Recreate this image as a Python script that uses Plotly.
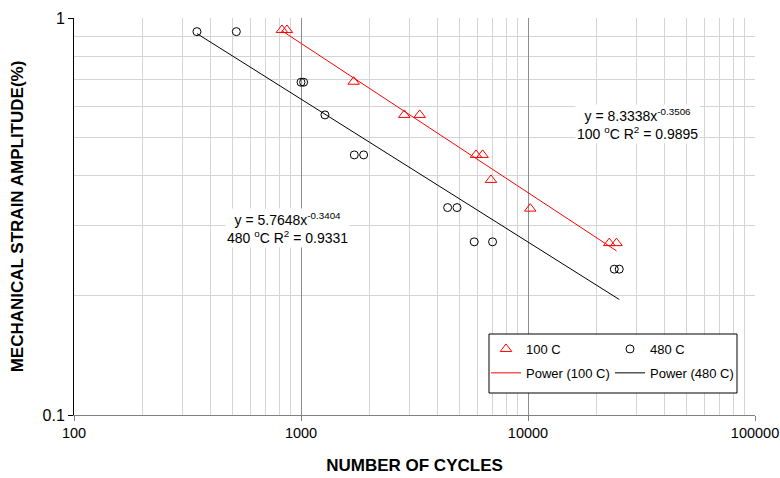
import numpy as np
import plotly.graph_objects as go

# 100 C data
cycles_100 = [824, 867, 1706, 2851, 3334, 5902, 6310, 6870, 10230, 22800, 24550]
strain_100 = [0.933, 0.933, 0.691, 0.570, 0.570, 0.452, 0.452, 0.391, 0.331, 0.271, 0.271]
# 480 C data
cycles_480 = [348, 519, 1000, 1027, 1275, 1717, 1888, 4426, 4866, 5795, 6980, 23990, 25240]
strain_480 = [0.924, 0.924, 0.689, 0.689, 0.570, 0.452, 0.452, 0.333, 0.333, 0.273, 0.273, 0.233, 0.233]

x_tickvals = [100, 1000, 10000, 100000]
x_ticktext = ["100", "1000", "10000", "100000"]
y_tickvals = [0.1, 1]
y_ticktext = ["0.1", "1"]

eq_100 = "y = 8.3338x<sup>-0.3506</sup><br>100 <sup>o</sup>C R<sup>2</sup> = 0.9895"
eq_480 = "y = 5.7648x<sup>-0.3404</sup><br>480 <sup>o</sup>C R<sup>2</sup> = 0.9331"

FONT = "Liberation Sans, Arial, sans-serif"


def power_fit(x, y):
    lx, ly = np.log10(x), np.log10(y)
    b, a = np.polyfit(lx, ly, 1)
    xs = np.array([min(x), max(x)], dtype=float)
    return xs, 10 ** (a + b * np.log10(xs))


fx100, fy100 = power_fit(cycles_100, strain_100)
fx480, fy480 = power_fit(cycles_480, strain_480)

fig = go.Figure()
fig.add_trace(go.Scatter(x=cycles_100, y=strain_100, mode="markers", name="100 C",
                         marker=dict(symbol="triangle-up-open", size=10, color="#ff0000", line=dict(width=1)),
                         legend="legend", legendgroup="a"))
fig.add_trace(go.Scatter(x=cycles_480, y=strain_480, mode="markers", name="480 C",
                         marker=dict(symbol="circle-open", size=8, color="#000000", line=dict(width=1)),
                         legend="legend2", legendgroup="c"))
fig.add_trace(go.Scatter(x=fx100, y=fy100, mode="lines", name="Power (100 C)",
                         line=dict(color="#ff0000", width=1), legend="legend", legendgroup="b"))
fig.add_trace(go.Scatter(x=fx480, y=fy480, mode="lines", name="Power (480 C)",
                         line=dict(color="#000000", width=1), legend="legend2", legendgroup="d"))

legend_common = dict(bgcolor="rgba(0,0,0,0)", borderwidth=0, font=dict(family=FONT, size=13, color="#000"),
                     traceorder="grouped", tracegroupgap=4, yanchor="top", xanchor="left", itemwidth=30)

fig.update_layout(
    width=780, height=478,
    margin=dict(l=74, r=25, t=18, b=63),
    paper_bgcolor="white", plot_bgcolor="white",
    font=dict(family=FONT, size=14, color="#000"),
    showlegend=True,
    legend=dict(x=(486 - 74) / 681, y=(415 - 334) / 397, **legend_common),
    legend2=dict(x=(610 - 74) / 681, y=(415 - 334) / 397, **legend_common),
    xaxis=dict(type="log", range=[2, 5], tickvals=x_tickvals, ticktext=x_ticktext, automargin=False,
               ticklabeloverflow="allow",
               showgrid=True, gridcolor="#8c8c8c", gridwidth=1,
               minor=dict(dtick="D1", showgrid=True, gridcolor="#d4d4d4", ticks=""),
               ticks="outside", ticklen=5, tickcolor="#808080",
               showline=True, linecolor="#808080", linewidth=1, mirror=False,
               tickfont=dict(family=FONT, size=14.5),
               title=dict(text="<b>NUMBER OF CYCLES</b>", font=dict(family=FONT, size=17), standoff=18),
               zeroline=False),
    yaxis=dict(type="log", range=[-1, 0], tickvals=y_tickvals, ticktext=y_ticktext, automargin=False,
               ticklabeloverflow="allow",
               showgrid=True, gridcolor="#808080", gridwidth=1,
               minor=dict(dtick="D1", showgrid=True, gridcolor="#d4d4d4", ticks=""),
               ticks="outside", ticklen=5, tickcolor="#000",
               showline=True, linecolor="#000", linewidth=1,
               tickfont=dict(family=FONT, size=16),
               title=dict(text="<b>MECHANICAL STRAIN AMPLITUDE(%)</b>", font=dict(family=FONT, size=17), standoff=14),
               zeroline=False),
    shapes=[dict(type="rect", xref="paper", yref="paper",
                 x0=(489 - 74) / 681, x1=(737 - 74) / 681, y0=(415 - 393) / 397, y1=(415 - 334) / 397,
                 fillcolor="white", line=dict(color="#000", width=1), layer="above")],
    annotations=[
        dict(text=eq_100, xref="paper", yref="paper", x=(637 - 74) / 681, y=(415 - 124) / 397, showarrow=False,
             xanchor="center", yanchor="middle",
             bgcolor="white", font=dict(family=FONT, size=14, color="#000"), align="center"),
        dict(text=eq_480, xref="paper", yref="paper", x=(287 - 74) / 681, y=(415 - 228) / 397, showarrow=False,
             xanchor="center", yanchor="middle",
             bgcolor="white", font=dict(family=FONT, size=14, color="#000"), align="center"),
    ],
)

fig.write_html("out.html", config={"displayModeBar": False},
               post_script="document.body.style.margin='0';document.body.style.overflow='hidden';")
